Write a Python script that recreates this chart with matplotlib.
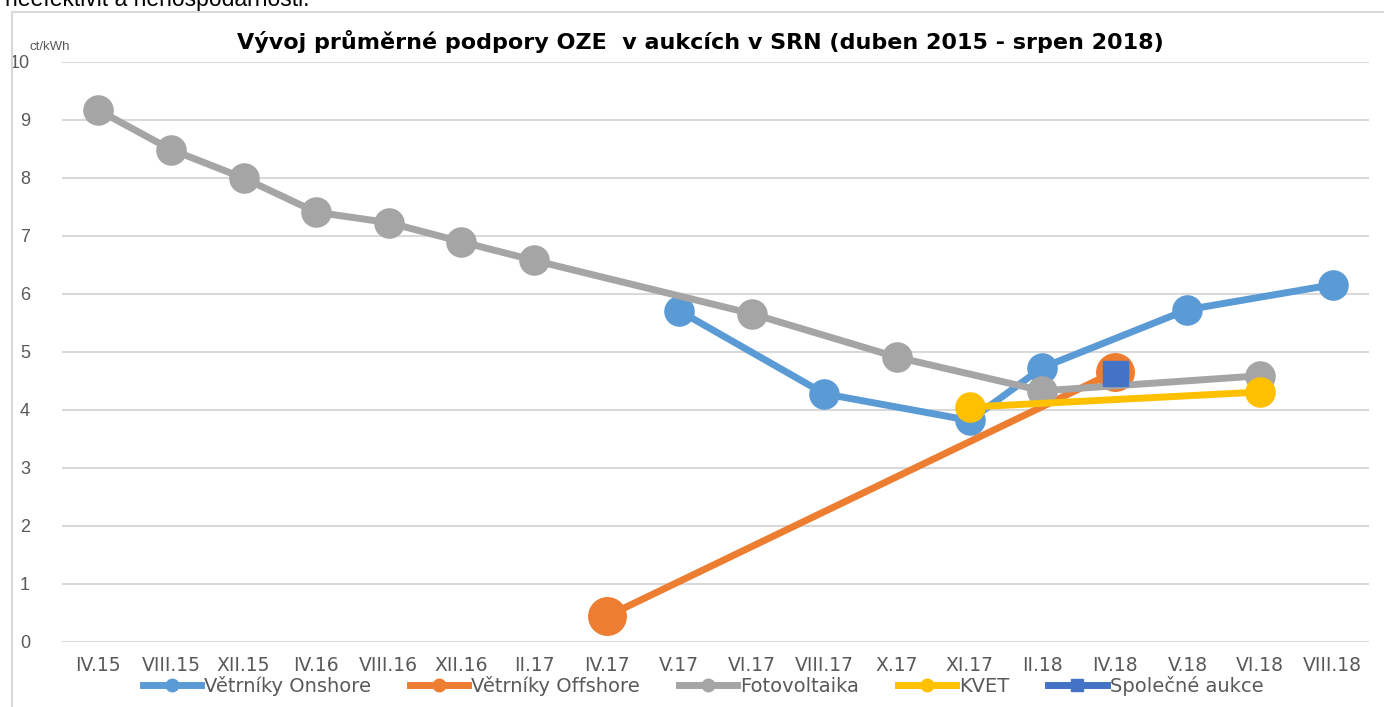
import numpy as np
import matplotlib.pyplot as plt
from matplotlib.lines import Line2D

# categories (auction rounds)
months = ['IV.15', 'VIII.15', 'XII.15', 'IV.16', 'VIII.16', 'XII.16', 'II.17', 'IV.17', 'V.17',
          'VI.17', 'VIII.17', 'X.17', 'XI.17', 'II.18', 'IV.18', 'V.18', 'VI.18', 'VIII.18']

nan = np.nan
onshore = [nan, nan, nan, nan, nan, nan, nan, nan, 5.71, nan, 4.28, nan, 3.82, 4.73, nan, 5.73, nan, 6.16]
offshore = [nan, nan, nan, nan, nan, nan, nan, 0.44, nan, nan, nan, nan, nan, nan, 4.66, nan, nan, nan]
pv = [9.17, 8.49, 8.00, 7.41, 7.23, 6.90, 6.58, nan, nan, 5.66, nan, 4.91, nan, 4.33, nan, nan, 4.59, nan]
kvet = [nan, nan, nan, nan, nan, nan, nan, nan, nan, nan, nan, nan, 4.05, nan, nan, nan, 4.31, nan]
joint = [nan, nan, nan, nan, nan, nan, nan, nan, nan, nan, nan, nan, nan, nan, 4.64, nan, nan, nan]

series = [
    ('Větrníky Onshore', onshore, '#5B9BD5', 'o', 21),
    ('Větrníky Offshore', offshore, '#ED7D31', 'o', 27),
    ('Fotovoltaika', pv, '#A5A5A5', 'o', 21),
    ('KVET', kvet, '#FFC000', 'o', 21),
    ('Společné aukce', joint, '#4472C4', 's', 18),
]

fig = plt.figure(figsize=(13.84, 7.07), dpi=100)
W, H = 1384, 707
ax = fig.add_axes([62 / W, 1 - 642 / H, (1369 - 62) / W, (642 - 62) / H])

# chart frame and cut-off text line above it
fig.add_artist(Line2D([12 / W, 12 / W], [0, 1 - 12 / H], color='#d9d9d9', lw=1.5))
fig.add_artist(Line2D([12 / W, 1], [1 - 12 / H, 1 - 12 / H], color='#d9d9d9', lw=1.5))
fig.text(5 / W, 1 - 6 / H, 'neefektivit a nehospodárnosti.', fontsize=16.5,
         family='Liberation Sans', va='baseline', ha='left')

x = np.arange(len(months))
handles = []
for name, vals, col, mk, ms in series:
    v = np.array(vals, dtype=float)
    ok = ~np.isnan(v)
    ax.plot(x[ok], v[ok], color=col, lw=5, marker=mk, markersize=ms,
            solid_capstyle='round', zorder=3)
    handles.append(Line2D([0], [0], color=col, lw=5, marker=mk, markersize=9))

ax.set_xlim(-0.5, len(months) - 0.5)
ax.set_ylim(0, 10)
ax.set_yticks(range(0, 11))
ax.set_xticks(x)
ax.set_xticklabels(months, family='DejaVu Sans', fontsize=13.5, color='#595959')
for lb in ax.get_yticklabels():
    lb.set_family('Liberation Sans')
    lb.set_fontsize(13)
    lb.set_color('#595959')
ax.tick_params(length=0)
ax.tick_params(axis='x', pad=10)
ax.tick_params(axis='y', pad=23)
ax.grid(axis='y', color='#d9d9d9', lw=1.5)
ax.set_axisbelow(True)
for s in ax.spines.values():
    s.set_visible(False)

fig.text(70 / W, 1 - 50 / H, 'ct/kWh', fontsize=9.5, color='#595959',
         family='Liberation Sans', ha='right', va='baseline')
fig.text(700 / W, 1 - 49 / H, 'Vývoj průměrné podpory OZE  v aukcích v SRN (duben 2015 - srpen 2018)',
         fontsize=16, fontweight='bold', family='DejaVu Sans', ha='center', va='baseline')

fig.legend(handles, [s[0] for s in series], loc='center', bbox_to_anchor=(703 / W, 1 - 686 / H),
           ncol=5, frameon=False, handlelength=3.0, handletextpad=0.15, columnspacing=2.0,
           prop={'family': 'DejaVu Sans', 'size': 14}, labelcolor='#595959')

fig.savefig('out.png', dpi=100)
